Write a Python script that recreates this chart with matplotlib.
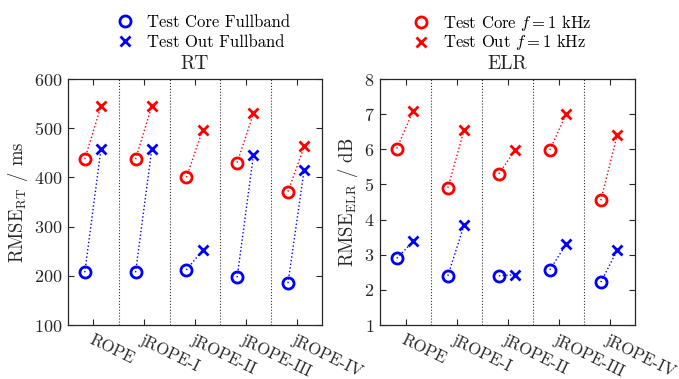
import matplotlib
matplotlib.use("Agg")
import matplotlib.pyplot as plt
from matplotlib.lines import Line2D
import numpy as np

plt.rcParams['font.family'] = ['cmr10', 'DejaVu Serif']
plt.rcParams['mathtext.fontset'] = 'cm'
plt.rcParams['axes.formatter.use_mathtext'] = True
plt.rcParams['axes.unicode_minus'] = False

methods = ["ROPE", "jROPE-I", "jROPE-II", "jROPE-III", "jROPE-IV"]

rt_core_full = [207, 207, 212, 197, 185]
rt_out_full = [458, 458, 252, 445, 416]
rt_core_1k = [437, 437, 400, 430, 371]
rt_out_1k = [545, 545, 496, 530, 463]

elr_core_full = [2.90, 2.40, 2.40, 2.57, 2.22]
elr_out_full = [3.38, 3.85, 2.43, 3.30, 3.12]
elr_core_1k = [6.02, 4.90, 5.30, 5.98, 4.55]
elr_out_1k = [7.10, 6.55, 5.98, 7.00, 6.40]

rt_yticks = [100, 200, 300, 400, 500, 600]
elr_yticks = [1, 2, 3, 4, 5, 6, 7, 8]

fig = plt.figure(figsize=(6.79, 3.79), dpi=100)
ax1 = fig.add_axes([68/679, 1-325/379, 254/679, 246/379])
ax2 = fig.add_axes([380/679, 1-325/379, 255/679, 246/379])

x = np.arange(1, len(methods) + 1)
dc, do = -0.17, 0.15
ms = 8
msx = 7
mew = 2.0

def draw(ax, core_full, out_full, core_1k, out_1k, yticks, ylabel, title):
    for cf, of, c1, o1, xi in zip(core_full, out_full, core_1k, out_1k, x):
        ax.plot([xi + dc, xi + do], [cf, of], ':', color='blue', lw=1.0)
        ax.plot([xi + dc, xi + do], [c1, o1], ':', color='red', lw=1.0)
    ax.plot(x + dc, core_full, 'o', mfc='none', mec='blue', ms=ms, mew=mew, ls='none')
    ax.plot(x + do, out_full, 'x', color='blue', ms=msx, mew=mew, ls='none')
    ax.plot(x + dc, core_1k, 'o', mfc='none', mec='red', ms=ms, mew=mew, ls='none')
    ax.plot(x + do, out_1k, 'x', color='red', ms=msx, mew=mew, ls='none')
    for b in np.arange(1.5, len(methods), 1.0):
        ax.axvline(b, color='0.2', ls=':', lw=0.8)
    ax.set_xlim(0.5, len(methods) + 0.5)
    ax.set_ylim(yticks[0], yticks[-1])
    ax.set_yticks(yticks)
    ax.set_xticks(x)
    ax.set_xticklabels(methods, rotation=-26, ha='left', rotation_mode='anchor')
    ax.tick_params(direction='in', top=True, right=True, labelsize=13, colors='0.15',
                   length=4, width=0.8)
    ax.tick_params(axis='x', pad=5, labelsize=12)
    ax.tick_params(axis='y', pad=4)
    for lab in ax.get_xticklabels():
        lab.set_color('0.15')
    ax.set_ylabel(ylabel, fontsize=13.5, color='0.15', labelpad=3)
    ax.set_title(title, fontsize=14, color='0.15', pad=7)
    for s in ax.spines.values():
        s.set_color('0.15')
        s.set_linewidth(0.9)

draw(ax1, rt_core_full, rt_out_full, rt_core_1k, rt_out_1k, rt_yticks,
     r"RMSE$_\mathrm{RT}$ / ms", "RT")
draw(ax2, elr_core_full, elr_out_full, elr_core_1k, elr_out_1k, elr_yticks,
     r"RMSE$_\mathrm{ELR}$ / dB", "ELR")

h1 = [Line2D([], [], marker='o', mfc='none', mec='blue', ms=ms, mew=mew, ls='none'),
      Line2D([], [], marker='x', color='blue', ms=msx, mew=mew, ls='none')]
h2 = [Line2D([], [], marker='o', mfc='none', mec='red', ms=ms, mew=mew, ls='none'),
      Line2D([], [], marker='x', color='red', ms=msx, mew=mew, ls='none')]
kw = dict(frameon=False, fontsize=12, handletextpad=0.6,
          borderpad=0, handlelength=1.5, loc='upper left')
fig.legend(h1, ["Test Core Fullband", "Test Out Fullband"],
           bbox_to_anchor=(104/679, 1-6/379), labelspacing=0.3, **kw)
fig.legend(h2, [r"Test Core $f = 1$ kHz", r"Test Out $f = 1$ kHz"],
           bbox_to_anchor=(400/679, 1-5/379), labelspacing=-0.05, **kw)

fig.savefig("out.png", dpi=100)
